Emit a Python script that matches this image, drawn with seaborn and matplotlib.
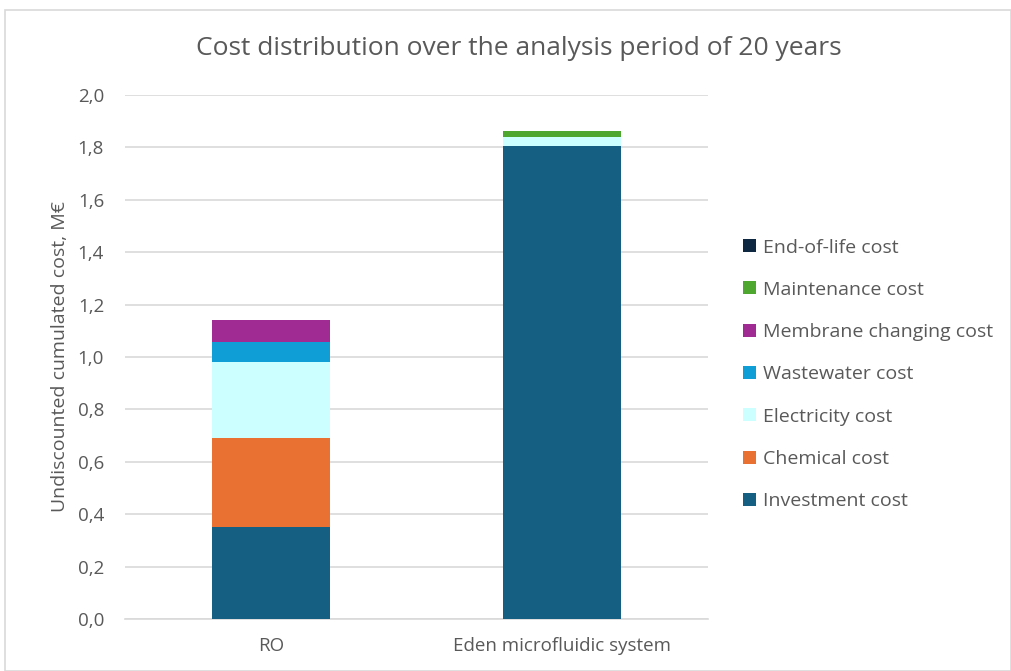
import matplotlib
matplotlib.use("Agg")
import matplotlib.pyplot as plt
from matplotlib.patches import Patch, Rectangle
from matplotlib.ticker import FuncFormatter
import numpy as np
import pandas as pd
import seaborn as sns

categories = ["RO", "Eden microfluidic system"]
components = ["Investment cost", "Chemical cost", "Electricity cost", "Wastewater cost",
              "Membrane changing cost", "Maintenance cost", "End-of-life cost"]
investment = [0.351, 1.804]
chemical = [0.339, 0.0]
electricity = [0.290, 0.035]
wastewater = [0.078, 0.0]
membrane = [0.083, 0.0]
maintenance = [0.0, 0.023]
end_of_life = [0.0, 0.0]
colors = ["#156082", "#E97132", "#CCFFFF", "#0F9ED5", "#A02B93", "#4EA72E", "#0E2841"]
title = "Cost distribution over the analysis period of 20 years"
ylabel = "Undiscounted cumulated cost, M€"

series = [investment, chemical, electricity, wastewater, membrane, maintenance, end_of_life]
cum = np.cumsum(np.array(series), axis=0)

sns.set_theme(style="white")
plt.rcParams["font.family"] = ["Open Sans", "DejaVu Sans"]
TXT = "#595959"

fig = plt.figure(figsize=(10.11, 6.71), dpi=100)
ax = fig.add_axes([0.1236, 0.0775, 0.5767, 0.781])

# Draw cumulative totals from top to bottom so each layer overlays the next
for i in range(len(components) - 1, -1, -1):
    df = pd.DataFrame({"cat": categories, "val": cum[i]})
    sns.barplot(data=df, x="cat", y="val", color=colors[i], width=0.405,
                saturation=1, ax=ax, zorder=3, linewidth=0)

ax.set_xlim(-0.5, 1.5)
ax.set_ylim(0, 2.0)
ax.set_yticks(np.arange(0, 2.01, 0.2))
ax.yaxis.set_major_formatter(FuncFormatter(lambda v, p: f"{v:.1f}".replace(".", ",")))
ax.grid(axis="y", color="#D9D9D9", linewidth=1.2, zorder=0)
ax.grid(axis="x", visible=False)
for s in ["top", "right", "left"]:
    ax.spines[s].set_visible(False)
ax.spines["bottom"].set_color("#D9D9D9")
ax.spines["bottom"].set_linewidth(1.2)
ax.tick_params(axis="both", length=0, labelsize=13.5, colors=TXT)
ax.tick_params(axis="y", pad=15)
ax.tick_params(axis="x", pad=13)
ax.set_xlabel("")
ax.set_ylabel(ylabel, fontsize=14, color=TXT, labelpad=6)
fig.text(0.513, 0.928, title, ha="center", va="center", fontsize=19, color=TXT)

handles = [Patch(facecolor=colors[i], edgecolor="none", label=components[i])
           for i in range(len(components) - 1, -1, -1)]
leg = fig.legend(handles=handles, loc="center left", bbox_to_anchor=(0.718, 0.442),
                 frameon=False, fontsize=14, labelcolor=TXT, handlelength=0.65,
                 handleheight=0.65, handletextpad=0.36, labelspacing=1.25,
                 borderpad=0.4)

fig.patches.append(Rectangle((0.005, 0.0), 0.995, 0.985, transform=fig.transFigure,
                             fill=False, edgecolor="#D9D9D9", linewidth=1.2))

fig.savefig("out.png", dpi=100, facecolor="white")
